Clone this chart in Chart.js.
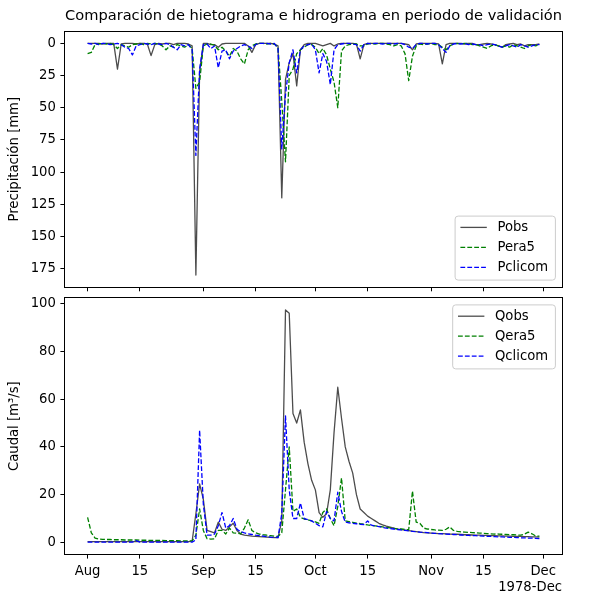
<!DOCTYPE html>
<html lang="es">
<head>
<meta charset="UTF-8">
<title>Hietograma e hidrograma - validación</title>
<script src="https://cdn.jsdelivr.net/npm/chart.js"></script>
<style>
    body { margin: 0; background: #fff; width: 594px; height: 597px; overflow: hidden; }
    canvas { position: absolute; left: 0; }
</style>
</head>
<body>
<canvas id="chartP" width="594" height="300" style="top:0"></canvas>
<canvas id="chartQ" width="594" height="307" style="top:290px"></canvas>

<script>
// daily values, day 0 = 1978-08-01 ... day 121 = 1978-11-30
const pobs = [
    0, 0, 0, 0, 0.5, 0, 0, 0, 20, 0.5,
    0, 0, 0, 0.5, 0, 0, 0.5, 9.5, 1, 0,
    0.5, 0, 0, 1, 0, 0, 0, 0.5, 2, 180,
    22, 0, 0, 1, 1, 3, 0.5, 0, 0, 0,
    0, 0, 0, 2, 7, 1, 0, 0, 0, 0,
    0.5, 2, 120, 28, 15, 8, 33, 5, 1, 0,
    0, 0, 1, 2, 1, 0, 2, 0.5, 0, 0,
    0, 0, 0.5, 12, 1, 0, 0, 0, 0, 0,
    0, 0, 0, 0, 0, 0.5, 1, 5, 0.5, 0,
    0, 0, 0, 0, 0.5, 16, 1, 0, 0, 0,
    0, 0.5, 0, 0, 1, 1, 0.5, 0, 0.5, 1,
    2, 3, 1, 0.5, 0, 1, 0.5, 2, 1, 1,
    1, 0.5
];
const pera5 = [
    8, 7, 1, 0.5, 0, 0.5, 0, 1, 4, 1,
    2, 3, 1, 0.5, 0, 1, 0, 0.5, 0, 0.5,
    2, 5, 2, 3, 1, 2, 3, 1, 4, 35,
    30, 2, 0.5, 0.5, 1.5, 5, 3, 6, 10, 4,
    6, 12, 16, 5, 2, 0.5, 0, 0, 0.5, 0,
    0.5, 3, 45, 92, 25, 20, 8, 5, 3, 1,
    1, 3, 8, 4, 9, 20, 30, 50, 6, 2,
    1, 0.5, 0.5, 2, 2, 0.5, 0, 0.5, 0, 0,
    0.5, 1, 2, 1, 2, 8, 29, 10, 2, 0.5,
    1, 0.5, 0, 1, 1, 3, 5, 2, 0.5, 0,
    0.5, 0, 0, 1, 1, 2, 3, 4, 2, 1,
    2, 3, 2, 3, 1, 2, 3, 4, 2, 1,
    2, 1
];
const pclicom = [
    0, 0.5, 0, 1, 0, 0, 1, 0.5, 0, 1,
    3, 4, 9, 2, 1, 0, 0.5, 1, 0, 0.5,
    1, 0, 1, 3, 5, 1, 2, 1, 5, 87,
    20, 1, 0.5, 4, 2, 19, 6, 5, 12, 6,
    4, 2, 1, 2, 4, 1, 0, 0, 0, 0.5,
    0, 4, 82, 40, 15, 5, 23, 5, 2, 1,
    0.5, 5, 23, 8, 14, 32, 5, 1, 0.5, 0,
    0, 0.5, 1, 6, 1, 0, 0.5, 0, 0, 0.5,
    0, 0, 0.5, 0, 0, 1, 3, 4, 1, 0,
    0, 0.5, 0, 0, 1, 4, 7, 2, 0.5, 0,
    0.5, 0, 1, 0.5, 1, 1, 2, 1, 0.5, 1,
    2, 3, 2, 1, 2, 3, 1, 2, 3, 2,
    1, 1
];
const qobs = [
    0.3, 0.3, 0.3, 0.3, 0.3, 0.3, 0.3, 0.3, 0.3, 0.3,
    0.3, 0.3, 0.3, 0.3, 0.3, 0.3, 0.3, 0.3, 0.3, 0.3,
    0.3, 0.3, 0.3, 0.3, 0.3, 0.3, 0.3, 0.3, 0.5, 12,
    24.5, 18, 5, 4.5, 4, 8.5, 5.5, 5, 6.5, 8,
    5, 3.5, 3, 2.8, 2.6, 2.5, 2.4, 2.3, 2.2, 2.1,
    2, 2, 9, 97.4, 96, 54, 50, 55.5, 42, 33,
    26, 22, 12.5, 10.5, 12, 22, 46, 65, 52, 40,
    34, 29, 20, 14, 12.5, 11, 10, 9, 8, 7.3,
    6.8, 6.4, 6, 5.5, 5.3, 5.1, 4.9, 4.7, 4.5, 4.3,
    4.1, 4, 3.9, 3.8, 3.7, 3.7, 3.6, 3.5, 3.4, 3.4,
    3.3, 3.2, 3.2, 3.1, 3, 3, 2.9, 2.9, 2.8, 2.8,
    2.7, 2.7, 2.6, 2.6, 2.5, 2.5, 2.5, 2.4, 2.4, 2.3,
    2.3, 2.2
];
const qera5 = [
    10.5, 4, 1.8, 1.4, 1.3, 1.2, 1.2, 1.1, 1.1, 1.1,
    1, 1, 1, 1, 0.9, 0.9, 0.9, 0.8, 0.8, 0.8,
    0.8, 0.7, 0.7, 0.7, 0.7, 0.6, 0.6, 0.6, 0.6, 3,
    14, 5, 1.5, 1.4, 1.5, 5, 5, 3.5, 6, 4,
    3.8, 3.6, 6, 9.5, 5, 4, 3.5, 3.2, 3, 2.8,
    2.6, 2.5, 4, 22, 40, 13, 14, 10.5, 9.8, 9.5,
    9, 8.6, 8, 12.5, 14, 10, 7, 15, 27, 9,
    8.7, 8.4, 8.1, 7.8, 7.6, 7.3, 7.1, 6.9, 6.7, 6.5,
    6.3, 6.1, 5.9, 5.7, 5.6, 5.4, 5.3, 21.5, 8.5, 8,
    6, 5.6, 5.4, 5.2, 5.1, 5, 5.5, 6.5, 5, 4.6,
    4.4, 4.3, 4.2, 4.1, 4, 3.9, 3.8, 3.7, 3.6, 3.5,
    3.5, 3.4, 3.3, 3.2, 3.2, 3.1, 3, 3.5, 4.3, 3.6,
    2.7, 2.6
];
const qclicom = [
    0.1, 0.1, 0.1, 0.1, 0.1, 0.1, 0.1, 0.1, 0.1, 0.1,
    0.1, 0.1, 0.1, 0.7, 0.1, 0.1, 0.1, 0.1, 0.1, 0.1,
    0.1, 0.1, 0.1, 0.1, 0.1, 0.1, 0.1, 0.1, 0.1, 1,
    47, 16, 3, 3, 3.5, 7, 12.5, 6, 7, 10,
    5.5, 4.5, 4, 3.6, 3.3, 3, 2.8, 2.6, 2.4, 2.2,
    2.1, 2, 12, 53, 22, 10, 10, 16.5, 10, 9.5,
    9, 8, 7, 6.5, 13, 10, 9, 21, 13, 8.5,
    8.2, 8, 7.8, 7.6, 7.5, 9, 7.2, 6.9, 6.6, 6.3,
    6, 5.8, 5.6, 5.4, 5.2, 5, 4.8, 4.6, 4.5, 4.3,
    4.2, 4.1, 3.9, 3.8, 3.7, 3.6, 3.5, 3.4, 3.3, 3.2,
    3.1, 3, 2.9, 2.8, 2.8, 2.7, 2.6, 2.5, 2.5, 2.4,
    2.3, 2.3, 2.2, 2.1, 2.1, 2, 1.9, 1.9, 1.8, 1.8,
    1.7, 1.6
];

// x ticks (days since 1 Aug 1978)
const tickDays = [0, 14, 31, 45, 61, 75, 92, 106, 122];
const tickLabels = ['Aug', '15', 'Sep', '15', 'Oct', '15', 'Nov', '15', 'Dec'];
const pTicks = [0, 25, 50, 75, 100, 125, 150, 175];
const qTicks = [0, 20, 40, 60, 80, 100];

Chart.defaults.font.family = "'DejaVu Sans', sans-serif";
Chart.defaults.font.size = 13.2;
Chart.defaults.color = '#000';
Chart.defaults.animation = false;

const FS = 13.2;
const TICK = 4.6;

const pts = arr => arr.map((v, i) => ({ x: i, y: v }));

function series(label, values, kind) {
    const styles = {
        obs:    { borderColor: 'rgba(0,0,0,0.7)', borderDash: [], order: 3 },
        era5:   { borderColor: 'green', borderDash: [4.8, 2.1], order: 2 },
        clicom: { borderColor: 'blue', borderDash: [4.8, 2.1], order: 1 }
    };
    return Object.assign({
        label: label,
        data: pts(values),
        borderWidth: 1.3,
        pointRadius: 0,
        tension: 0,
        borderJoinStyle: 'round',
        fill: false
    }, styles[kind]);
}

function xAxis(showLabels, height, title) {
    return {
        type: 'linear',
        min: -6.05,
        max: 127.05,
        afterBuildTicks: s => { s.ticks = tickDays.map(v => ({ value: v })); },
        afterFit: s => { s.height = height; s.paddingLeft = 0; s.paddingRight = 0; },
        ticks: {
            display: showLabels, autoSkip: false, maxRotation: 0, padding: TICK,
            callback: (v, i) => tickLabels[i]
        },
        grid: { display: true, drawOnChartArea: false, drawTicks: true, tickLength: TICK, tickColor: '#000' },
        border: { display: false },
        title: title ? { display: true, text: title, align: 'end', padding: { top: 0, bottom: 2 } } : { display: false }
    };
}

function yAxis(min, max, ticks, title, reverse) {
    return {
        type: 'linear',
        min: min,
        max: max,
        reverse: reverse,
        afterBuildTicks: s => { s.ticks = ticks.map(v => ({ value: v })); },
        afterFit: s => { s.width = 65; s.paddingTop = 0; s.paddingBottom = 0; },
        ticks: { padding: TICK, callback: v => String(v) },
        grid: { display: true, drawOnChartArea: false, drawTicks: true, tickLength: TICK, tickColor: '#000' },
        border: { display: false },
        title: { display: true, text: title, padding: { top: 6.5, bottom: 0 } }
    };
}

// axes box + matplotlib-like legend
const mplDecor = {
    id: 'mplDecor',
    afterDraw(chart, args, opts) {
        const { ctx, chartArea: a } = chart;
        ctx.save();
        ctx.strokeStyle = '#000';
        ctx.lineWidth = 1;
        ctx.strokeRect(Math.round(a.left) - 0.5, Math.round(a.top) - 0.5,
            Math.round(a.right - a.left) + 1, Math.round(a.bottom - a.top) + 1);

        const pad = 5.3, hl = 26.4, gap = 10.6, row = 20, h = 64;
        ctx.font = FS + "px 'DejaVu Sans'";
        const sets = chart.data.datasets;
        const tw = Math.max(...sets.map(d => ctx.measureText(d.label).width));
        const w = pad + hl + gap + tw + pad + 2;
        const x = a.right - 6.6 - w;
        const y = opts.corner === 'lower' ? a.bottom - 6.6 - h : a.top + 6.6;
        ctx.beginPath();
        ctx.roundRect(x, y, w, h, 3);
        ctx.fillStyle = 'rgba(255,255,255,0.8)';
        ctx.fill();
        ctx.strokeStyle = '#cccccc';
        ctx.stroke();
        sets.forEach((d, i) => {
            const cy = y + 11.3 + i * row;
            ctx.beginPath();
            ctx.setLineDash(d.borderDash || []);
            ctx.strokeStyle = d.borderColor;
            ctx.lineWidth = d.borderWidth;
            ctx.moveTo(x + pad, cy);
            ctx.lineTo(x + pad + hl, cy);
            ctx.stroke();
            ctx.setLineDash([]);
            ctx.fillStyle = '#000';
            ctx.textBaseline = 'middle';
            ctx.fillText(d.label, x + pad + hl + gap, cy);
        });
        ctx.restore();
    }
};

// precipitation (inverted axis)
new Chart(document.getElementById('chartP'), {
    type: 'line',
    data: {
        datasets: [
            series('Pobs', pobs, 'obs'),
            series('Pera5', pera5, 'era5'),
            series('Pclicom', pclicom, 'clicom')
        ]
    },
    options: {
        responsive: false,
        layout: { padding: { left: 0, right: 32, top: 0, bottom: 0 } },
        scales: {
            x: xAxis(false, 13.3, null),
            y: yAxis(-9, 189, pTicks, 'Precipitación [mm]', true)
        },
        plugins: {
            legend: { display: false },
            tooltip: { enabled: false },
            title: {
                display: true,
                fullSize: false,
                text: 'Comparación de hietograma e hidrograma en periodo de validación',
                font: { size: 14.8, weight: 'normal' },
                padding: { top: 7, bottom: 7 }
            },
            mplDecor: { corner: 'lower' }
        }
    },
    plugins: [mplDecor]
});

// discharge
new Chart(document.getElementById('chartQ'), {
    type: 'line',
    data: {
        datasets: [
            series('Qobs', qobs, 'obs'),
            series('Qera5', qera5, 'era5'),
            series('Qclicom', qclicom, 'clicom')
        ]
    },
    options: {
        responsive: false,
        layout: { padding: { left: 0, right: 32, top: 8.3, bottom: 0 } },
        scales: {
            x: xAxis(true, 43, '1978-Dec'),
            y: yAxis(-4.87, 102.27, qTicks, 'Caudal [m³/s]', false)
        },
        plugins: {
            legend: { display: false },
            tooltip: { enabled: false },
            mplDecor: { corner: 'upper' }
        }
    },
    plugins: [mplDecor]
});
</script>
</body>
</html>
